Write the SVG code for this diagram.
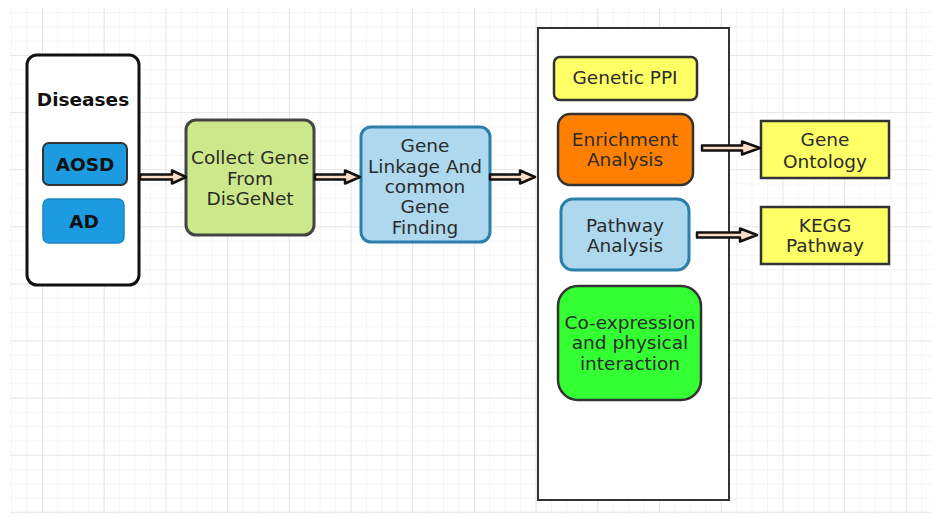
<svg xmlns="http://www.w3.org/2000/svg" width="937" height="516" viewBox="0 0 937 516">
<defs>
<pattern id="minor" patternUnits="userSpaceOnUse" x="42" y="55" width="15.425" height="14.275">
<path d="M0 0 V14.275 M0 0 H15.425" fill="none" stroke="#ededed" stroke-width="1"/>
</pattern>
<pattern id="major" patternUnits="userSpaceOnUse" x="42" y="55" width="61.7" height="57.1">
<path d="M0 0 V57.1 M0 0 H61.7" fill="none" stroke="#d9d9d9" stroke-width="1.2"/>
</pattern>
<style>
text{font-family:"DejaVu Sans","Liberation Sans",sans-serif;font-size:18.5px;fill:#2b2b2b;text-anchor:middle}
.b{font-weight:bold;fill:#111}
.arrow{fill:#fbdcc4;stroke:#111;stroke-width:2.5;stroke-linejoin:round}
.dark{stroke:#333;stroke-width:2.5}
.blue{fill:#add8ee;stroke:#2a7fab;stroke-width:3}
</style>
</defs>
<rect width="937" height="516" fill="#fff"/>
<rect x="10" y="8" width="922" height="505" fill="url(#minor)"/>
<rect x="10" y="8" width="922" height="505" fill="url(#major)"/>

<g id="diseases">
<rect x="27" y="55" width="112" height="230" rx="10" fill="#fff" stroke="#111" stroke-width="3"/>
<text class="b" x="83" y="106">Diseases</text>
</g>
<g id="aosd">
<rect x="43" y="143" width="84" height="42" rx="6" fill="#1c9be0" stroke="#333" stroke-width="2"/>
<text class="b" x="85" y="171">AOSD</text>
</g>
<g id="ad">
<rect x="43" y="199" width="81" height="44" rx="6" fill="#1c9be0" stroke="#1a86c2" stroke-width="1.5"/>
<text class="b" x="84" y="228">AD</text>
</g>
<g id="collect">
<rect x="186" y="120" width="128" height="115" rx="10" fill="#cde88a" stroke="#444" stroke-width="3"/>
<text x="250" y="164">Collect Gene</text>
<text x="250" y="185">From</text>
<text x="250" y="205">DisGeNet</text>
</g>
<g id="linkage">
<rect class="blue" x="361" y="127" width="129" height="115" rx="10"/>
<text x="425" y="152">Gene</text>
<text x="425" y="173">Linkage And</text>
<text x="425" y="193">common</text>
<text x="425" y="213">Gene</text>
<text x="425" y="234">Finding</text>
</g>
<g id="container">
<rect x="538" y="28" width="191" height="472" fill="#fff" stroke="#333" stroke-width="2"/>
</g>
<g id="ppi">
<rect class="dark" x="554" y="57" width="143" height="43" rx="6" fill="#ffff66" stroke-width="2"/>
<text x="625" y="84">Genetic PPI</text>
</g>
<g id="enrichment">
<rect class="dark" x="558" y="114" width="135" height="71" rx="12" fill="#ff8000" stroke-width="2"/>
<text x="625" y="146">Enrichment</text>
<text x="625" y="166">Analysis</text>
</g>
<g id="pathway">
<rect class="blue" x="561" y="199" width="128" height="71" rx="12"/>
<text x="625" y="232">Pathway</text>
<text x="625" y="252">Analysis</text>
</g>
<g id="coexpression">
<rect class="dark" x="558" y="286" width="143" height="114" rx="20" fill="#33ff33" stroke-width="2"/>
<text x="630" y="329">Co-expression</text>
<text x="630" y="349">and physical</text>
<text x="630" y="370">interaction</text>
</g>
<g id="ontology">
<rect class="dark" x="761" y="121" width="128" height="57" fill="#ffff66" stroke-width="2"/>
<text x="825" y="146">Gene</text>
<text x="825" y="168">Ontology</text>
</g>
<g id="kegg">
<rect class="dark" x="761" y="207" width="128" height="57" fill="#ffff66" stroke-width="2"/>
<text x="825" y="232">KEGG</text>
<text x="825" y="252">Pathway</text>
</g>

<g id="connectors">
<path class="arrow" d="M140 174.5 H172 V170.5 L186 177 L172 183.5 V179.5 H140 Z"/>
<path class="arrow" d="M315 174.5 H345 V170.5 L360 177 L345 183.5 V179.5 H315 Z"/>
<path class="arrow" d="M490 174.5 H520 V170.5 L535 177 L520 183.5 V179.5 H490 Z"/>
<path class="arrow" d="M702 145.5 H742 V141.5 L760 148 L742 154.5 V150.5 H702 Z"/>
<path class="arrow" d="M697 232.5 H740 V228.5 L757 235 L740 241.5 V237.5 H697 Z"/>
</g>
</svg>
